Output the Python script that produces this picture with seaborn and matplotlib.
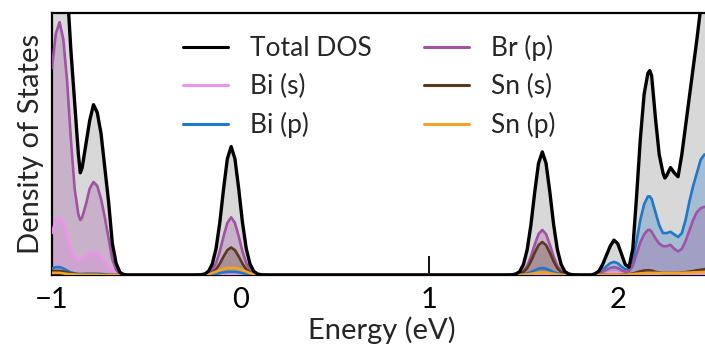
import numpy as np
import pandas as pd
import matplotlib
matplotlib.use("Agg")
import matplotlib.pyplot as plt
import seaborn as sns

sns.set_theme(style="white")
plt.rcParams['font.family'] = ['Lato', 'DejaVu Sans']

# ---------------- data ----------------
energy = [
    -1.00, -0.98, -0.96, -0.94, -0.92, -0.90, -0.88, -0.86, -0.85, -0.84, -0.82,
    -0.80, -0.78, -0.76, -0.74, -0.72, -0.70, -0.68, -0.66, -0.64, -0.62, -0.60,
    -0.25, -0.21, -0.19, -0.17, -0.15, -0.13, -0.11, -0.09, -0.07, -0.05, -0.03,
    -0.01, 0.01, 0.03, 0.05, 0.07, 0.09, 0.11, 0.15,
    1.40, 1.44, 1.46, 1.48, 1.50, 1.52, 1.54, 1.56, 1.58, 1.60, 1.62, 1.64, 1.66,
    1.68, 1.70, 1.72, 1.74, 1.76, 1.80,
    1.86, 1.88, 1.90, 1.92, 1.94, 1.96, 1.98, 2.00, 2.02, 2.04, 2.06, 2.08, 2.10,
    2.12, 2.14, 2.16, 2.17, 2.18, 2.20, 2.22, 2.24, 2.25, 2.26, 2.28, 2.30, 2.32,
    2.34, 2.36, 2.38, 2.40, 2.42, 2.44, 2.46, 2.48, 2.50,
]

total_dos = [
    14.0, 16.0, 16.5, 15.0, 11.0, 8.6, 6.6, 4.6, 3.9, 4.1, 5.0,
    5.9, 6.5, 6.2, 5.4, 4.1, 2.8, 1.2, 0.45, 0.1, 0.02, 0.0,
    0.0, 0.01, 0.04, 0.14, 0.42, 1.01, 2.01, 3.30, 4.44, 4.90, 4.44,
    3.30, 2.01, 1.01, 0.42, 0.14, 0.04, 0.01, 0.0,
    0.0, 0.01, 0.04, 0.13, 0.40, 0.97, 1.93, 3.17, 4.26, 4.70, 4.26, 3.17, 1.93,
    0.97, 0.40, 0.13, 0.04, 0.01, 0.0,
    0.0, 0.05, 0.15, 0.4, 0.75, 1.1, 1.33, 1.2, 0.8, 0.4, 0.3, 1.0, 3.0,
    5.2, 6.9, 7.7, 7.8, 7.6, 6.0, 4.6, 3.9, 3.7, 3.8, 4.1, 3.9, 3.75,
    4.6, 5.7, 6.8, 7.9, 9.0, 10.2, 11.3, 12.4, 13.5,
]

bi_s = [
    1.6, 2.1, 2.2, 2.0, 1.5, 1.0, 0.65, 0.57, 0.57, 0.6, 0.72,
    0.85, 0.88, 0.85, 0.7, 0.5, 0.3, 0.15, 0.05, 0.01, 0.0, 0.0,
    0.0, 0.0, 0.0, 0.0, 0.0, 0.01, 0.01, 0.02, 0.02, 0.02, 0.02,
    0.02, 0.01, 0.01, 0.0, 0.0, 0.0, 0.0, 0.0,
    0.0, 0.0, 0.0, 0.0, 0.0, 0.0, 0.0, 0.0, 0.0, 0.0, 0.0, 0.0, 0.0,
    0.0, 0.0, 0.0, 0.0, 0.0, 0.0,
    0.0, 0.0, 0.01, 0.03, 0.06, 0.09, 0.1, 0.09, 0.06, 0.03, 0.02, 0.02, 0.03,
    0.04, 0.05, 0.05, 0.05, 0.05, 0.04, 0.04, 0.03, 0.03, 0.03, 0.03, 0.03, 0.03,
    0.03, 0.04, 0.04, 0.05, 0.05, 0.05, 0.05, 0.05, 0.05,
]

bi_p = [
    0.25, 0.3, 0.3, 0.25, 0.17, 0.1, 0.06, 0.04, 0.04, 0.04, 0.05,
    0.05, 0.05, 0.05, 0.04, 0.03, 0.01, 0.0, 0.0, 0.0, 0.0, 0.0,
    0.0, 0.0, 0.0, 0.01, 0.02, 0.04, 0.07, 0.10, 0.12, 0.12, 0.12,
    0.10, 0.07, 0.04, 0.02, 0.01, 0.0, 0.0, 0.0,
    0.0, 0.0, 0.0, 0.01, 0.03, 0.06, 0.11, 0.18, 0.24, 0.27, 0.24, 0.18, 0.11,
    0.06, 0.03, 0.01, 0.0, 0.0, 0.0,
    0.0, 0.02, 0.08, 0.2, 0.33, 0.45, 0.5, 0.45, 0.32, 0.22, 0.25, 0.55, 1.3,
    2.1, 2.7, 3.0, 3.0, 2.9, 2.4, 1.9, 1.6, 1.6, 1.6, 1.65, 1.55, 1.45,
    1.6, 2.1, 2.8, 3.4, 3.9, 4.4, 4.6, 4.55, 4.5,
]

br_p = [
    7.9, 9.2, 9.65, 9.0, 7.4, 5.2, 3.3, 2.3, 2.1, 2.2, 2.7,
    3.3, 3.55, 3.4, 2.9, 2.2, 1.4, 0.6, 0.2, 0.05, 0.0, 0.0,
    0.0, 0.0, 0.02, 0.06, 0.19, 0.45, 0.90, 1.48, 1.99, 2.20, 1.99,
    1.48, 0.90, 0.45, 0.19, 0.06, 0.02, 0.0, 0.0,
    0.0, 0.0, 0.01, 0.05, 0.15, 0.35, 0.71, 1.16, 1.56, 1.72, 1.56, 1.16, 0.71,
    0.35, 0.15, 0.05, 0.01, 0.0, 0.0,
    0.0, 0.01, 0.05, 0.12, 0.2, 0.27, 0.3, 0.27, 0.18, 0.12, 0.15, 0.35, 0.8,
    1.25, 1.55, 1.72, 1.72, 1.65, 1.4, 1.2, 1.1, 1.1, 1.1, 1.15, 1.0, 0.9,
    1.0, 1.3, 1.7, 2.1, 2.4, 2.55, 2.6, 2.6, 2.6,
]

sn_s = [
    0.15, 0.15, 0.15, 0.13, 0.1, 0.06, 0.04, 0.02, 0.02, 0.02, 0.02,
    0.02, 0.02, 0.02, 0.01, 0.01, 0.0, 0.0, 0.0, 0.0, 0.0, 0.0,
    0.0, 0.0, 0.01, 0.03, 0.09, 0.22, 0.43, 0.71, 0.95, 1.05, 0.95,
    0.71, 0.43, 0.22, 0.09, 0.03, 0.01, 0.0, 0.0,
    0.0, 0.0, 0.01, 0.04, 0.11, 0.26, 0.52, 0.85, 1.14, 1.26, 1.14, 0.85, 0.52,
    0.26, 0.11, 0.04, 0.01, 0.0, 0.0,
    0.0, 0.0, 0.01, 0.01, 0.02, 0.02, 0.02, 0.02, 0.02, 0.02, 0.03, 0.05, 0.1,
    0.14, 0.17, 0.18, 0.18, 0.17, 0.12, 0.1, 0.08, 0.08, 0.08, 0.08, 0.08, 0.08,
    0.09, 0.11, 0.13, 0.15, 0.18, 0.2, 0.22, 0.24, 0.25,
]

sn_p = [
    0.08, 0.08, 0.08, 0.06, 0.04, 0.03, 0.02, 0.01, 0.01, 0.01, 0.01,
    0.01, 0.01, 0.01, 0.0, 0.0, 0.0, 0.0, 0.0, 0.0, 0.0, 0.0,
    0.0, 0.0, 0.01, 0.03, 0.07, 0.13, 0.19, 0.24, 0.27, 0.27, 0.27,
    0.24, 0.19, 0.13, 0.07, 0.03, 0.01, 0.0, 0.0,
    0.0, 0.0, 0.0, 0.0, 0.01, 0.02, 0.04, 0.07, 0.09, 0.10, 0.09, 0.07, 0.04,
    0.02, 0.01, 0.0, 0.0, 0.0, 0.0,
    0.0, 0.0, 0.0, 0.01, 0.01, 0.02, 0.02, 0.02, 0.01, 0.01, 0.02, 0.03, 0.05,
    0.06, 0.07, 0.08, 0.08, 0.08, 0.08, 0.08, 0.08, 0.08, 0.08, 0.08, 0.08, 0.08,
    0.08, 0.09, 0.09, 0.1, 0.1, 0.11, 0.11, 0.12, 0.12,
]

series_names = ["Total DOS", "Bi (s)", "Bi (p)", "Br (p)", "Sn (s)", "Sn (p)"]
series_vals = [total_dos, bi_s, bi_p, br_p, sn_s, sn_p]
series_colors = ["#000000", "#ee92ee", "#1f78c8", "#a052a4", "#5a3a1e", "#f2a324"]

xtick_vals = [-1, 0, 1, 2]

# ---------------- figure ----------------
fig = plt.figure(figsize=(7.05, 3.51), dpi=100)
ax = fig.add_axes([52 / 705, 76 / 351, 660 / 705, 262 / 351])

df = pd.DataFrame({"Energy": energy})
for name, vals in zip(series_names, series_vals):
    df[name] = vals

# fills
ax.fill_between(df["Energy"], 0, df["Total DOS"], color="#d8d8d8", zorder=1, lw=0)
for name, col in zip(series_names[1:], series_colors[1:]):
    ax.fill_between(df["Energy"], 0, df[name], color=col, alpha=0.28, zorder=2, lw=0)

# lines (partials first, total on top)
zorders = {"Total DOS": 10, "Bi (s)": 4, "Bi (p)": 5, "Br (p)": 6, "Sn (s)": 7, "Sn (p)": 8}
for name, col in zip(series_names, series_colors):
    lw = 2.4 if name == "Total DOS" else 1.9
    sns.lineplot(data=df, x="Energy", y=name, color=col, lw=lw, ax=ax,
                 label=name, zorder=zorders[name], sort=False, estimator=None)

ax.set_xlim(-1, 2.5)
ax.set_ylim(0, 10)
ax.set_xticks(xtick_vals)
ax.set_yticks([])
ax.tick_params(axis="x", direction="in", length=14, width=1.3, pad=9,
               labelsize=21, bottom=True, colors="black")
for s in ["left", "top", "bottom"]:
    ax.spines[s].set_color("black")
    ax.spines[s].set_linewidth(1.6)
ax.spines["right"].set_visible(False)

ax.set_xlabel("Energy (eV)", fontsize=21, labelpad=2)
ax.set_ylabel("Density of States", fontsize=21, labelpad=6)

handles, labels = ax.get_legend_handles_labels()
order = [labels.index(n) for n in series_names]
leg = ax.legend([handles[i] for i in order], [labels[i] for i in order],
                ncol=2, frameon=False, fontsize=19,
                loc="upper left", bbox_to_anchor=(159 / 705, 1 - 11 / 351),
                bbox_transform=fig.transFigure,
                handlelength=1.7, handletextpad=0.83, columnspacing=2.0,
                labelspacing=0.5)
for line in leg.get_lines():
    line.set_linewidth(2.2)

fig.savefig("out.png", dpi=100)
